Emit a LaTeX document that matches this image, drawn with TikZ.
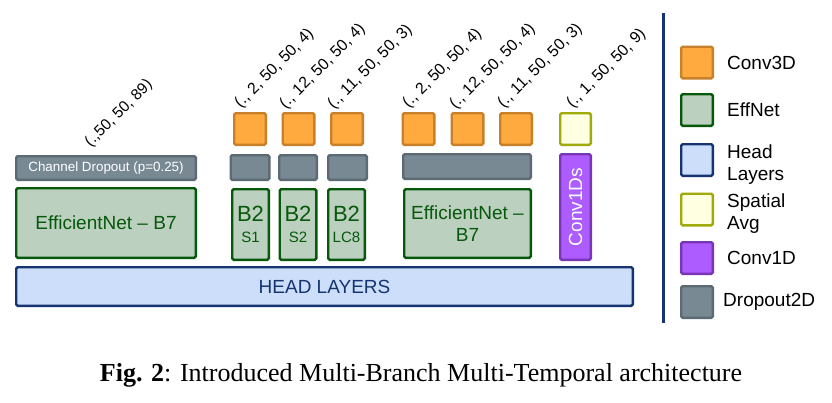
\documentclass[tikz,border=0pt]{standalone}
\usepackage{fontspec}
\setmainfont{Liberation Sans}
\newfontfamily\captionserif{Liberation Serif}

\definecolor{convfill}{RGB}{255,170,62}
\definecolor{convline}{RGB}{200,128,42}
\definecolor{efffill}{RGB}{187,208,190}
\definecolor{effline}{RGB}{6,88,10}
\definecolor{headfill}{RGB}{205,222,250}
\definecolor{headline}{RGB}{22,52,112}
\definecolor{avgfill}{RGB}{255,255,225}
\definecolor{avgline}{RGB}{160,170,10}
\definecolor{c1dfill}{RGB}{172,92,255}
\definecolor{c1dline}{RGB}{122,52,182}
\definecolor{dropfill}{RGB}{120,137,148}
\definecolor{dropline}{RGB}{92,106,116}

\begin{document}
\begin{tikzpicture}[x=1pt,y=-1pt,
  blk/.style 2 args={draw, line width=2.4pt, rounded corners=1.5pt, inner sep=0pt, outer sep=0pt,
    minimum width={(#1-2.4)*1pt}, minimum height={(#2-2.4)*1pt}},
  conv/.style={blk={34}{34}, fill=convfill, draw=convline},
  eff/.style={fill=efffill, draw=effline, text=effline},
  drop/.style={fill=dropfill, draw=dropline},
  head/.style={fill=headfill, draw=headline, text=headline},
  avg/.style={fill=avgfill, draw=avgline},
  cone/.style={fill=c1dfill, draw=c1dline},
  dimlabel/.style={rotate=45, anchor=south west, inner sep=0pt, font=\fontsize{16}{18}\selectfont},
  bigtxt/.style={font=\fontsize{19}{22}\selectfont},
  btwo/.style={font=\fontsize{22}{24}\selectfont, text=effline, inner sep=0pt},
  bsub/.style={font=\fontsize{15}{17}\selectfont, text=effline, inner sep=0pt},
  legbox/.style={blk={34}{34}},
  legtxt/.style={anchor=west, align=left, inner sep=0pt, font=\fontsize{19}{22}\selectfont},
]
\useasboundingbox (0,0) rectangle (832,402);

% ---- Left branch: EfficientNet-B7 with channel dropout
\node[blk={182}{26}, drop, text=white, font=\fontsize{13.4}{15}\selectfont] (cd) at (106,168) {Channel Dropout (p=0.25)};
\node[blk={182}{72}, eff, bigtxt] (effL) at (106,223) {EfficientNet -- B7};
\node[dimlabel, font=\fontsize{15.5}{17}\selectfont] (lblL) at (93,150) {(.,50, 50, 89)};

% ---- Three B2 branches
\node[conv] (c1) at (250,129) {};
\node[conv] (c2) at (298.5,129) {};
\node[conv] (c3) at (347,129) {};
\node[blk={41}{27}, drop] (d1) at (250,167.5) {};
\node[blk={40}{27}, drop] (d2) at (298,167.5) {};
\node[blk={41}{27}, drop] (d3) at (347.5,167.5) {};
\node[blk={39}{73}, eff] (b1) at (250.5,224.5) {};
\node[blk={39}{73}, eff] (b2) at (298,224.5) {};
\node[blk={39}{73}, eff] (b3) at (346.5,224.5) {};
\node[btwo] (b1t) at ([yshift=10.5pt]b1.center) {B2};
\node[bsub] (b1s) at ([yshift=-12.5pt]b1.center) {S1};
\node[btwo] (b2t) at ([yshift=10.5pt]b2.center) {B2};
\node[bsub] (b2s) at ([yshift=-12.5pt]b2.center) {S2};
\node[btwo] (b3t) at ([yshift=10.5pt]b3.center) {B2};
\node[bsub] (b3s) at ([yshift=-12.5pt]b3.center) {LC8};
\node[dimlabel] (l1) at (243,111) {(., 2, 50, 50, 4)};
\node[dimlabel] (l2) at (288,112) {(., 12, 50, 50, 4)};
\node[dimlabel] (l3) at (336,112) {(., 11, 50, 50, 3)};

% ---- Shared EfficientNet-B7 branch
\node[conv] (c4) at (418.5,129) {};
\node[conv] (c5) at (467.5,129) {};
\node[conv] (c6) at (516,129) {};
\node[blk={130}{27}, drop] (d4) at (467,166.5) {};
\node[blk={129}{71}, eff, bigtxt, align=center] (effR) at (467.5,223.5) {EfficientNet --\\B7};
\node[dimlabel] (l4) at (411,111) {(., 2, 50, 50, 4)};
\node[dimlabel] (l5) at (458,112) {(., 12, 50, 50, 4)};
\node[dimlabel] (l6) at (506,111) {(., 11, 50, 50, 3)};

% ---- Spatial average + Conv1D branch
\node[blk={33}{34}, avg] (sa) at (575.5,129) {};
\node[blk={33}{108}, cone] (c1d) at (575.5,207) {};
\node[rotate=90, text=white, font=\fontsize{19}{22}\selectfont, inner sep=0pt] (c1dt) at (c1d.center) {Conv1Ds};
\node[dimlabel] (l7) at (575,111) {(., 1, 50, 50, 9)};

% ---- Head
\node[blk={619}{41}, head, bigtxt] (hd) at (324.5,286.5) {HEAD LAYERS};

% ---- Legend
\coordinate (lgtop) at (663,13);
\coordinate (lgbot) at (663,323);
\draw[headline, line width=3pt] (lgtop) -- (lgbot);
\node[legbox, fill=convfill, draw=convline] (k1) at (697,62.5) {};
\node[legbox, fill=efffill, draw=effline] (k2) at (697,110) {};
\node[legbox, fill=headfill, draw=headline] (k3) at (697,160) {};
\node[legbox, fill=avgfill, draw=avgline] (k4) at (697,209.5) {};
\node[legbox, fill=c1dfill, draw=c1dline] (k5) at (697,258) {};
\node[legbox, fill=dropfill, draw=dropline] (k6) at (697,302) {};
\node[legtxt] (t1) at (727,63) {Conv3D};
\node[legtxt] (t2) at (727,110) {EffNet};
\node[legtxt] (t3) at (727,165) {Head\\Layers};
\node[legtxt] (t4) at (727,214) {Spatial\\Avg};
\node[legtxt] (t5) at (727,258) {Conv1D};
\node[legtxt] (t6) at (723,302) {Dropout2D};

% ---- Caption
\node[anchor=base, inner sep=0pt, font=\captionserif\fontsize{26}{28}\selectfont] (cap) at (421,381)
  {\textbf{Fig. 2}: Introduced Multi-Branch Multi-Temporal architecture};
\end{tikzpicture}
\end{document}
